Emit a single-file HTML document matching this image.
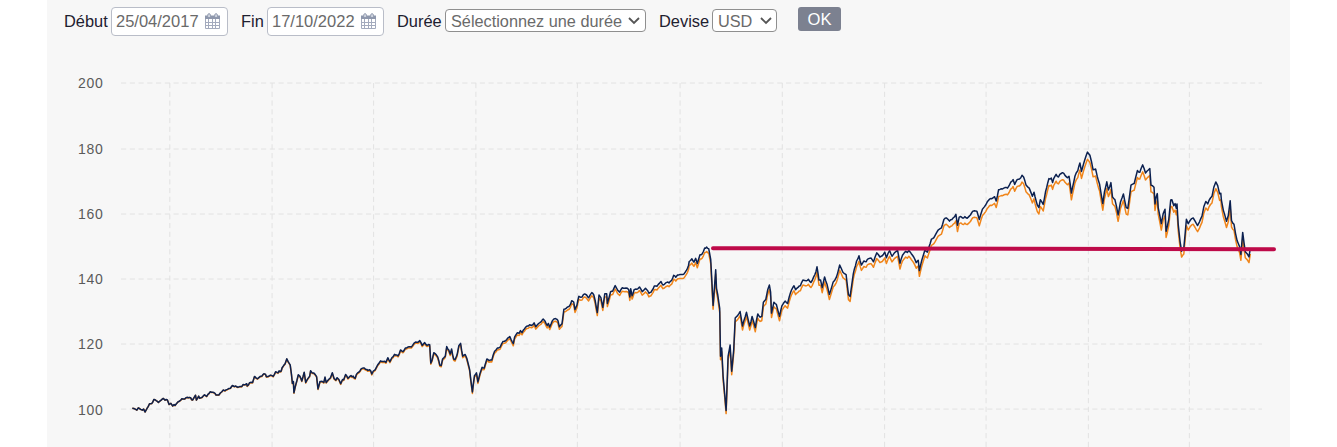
<!DOCTYPE html>
<html><head><meta charset="utf-8">
<style>
html,body{margin:0;padding:0;background:#fff;}
body{width:1337px;height:447px;overflow:hidden;position:relative;font-family:"Liberation Sans",sans-serif;}
#panel{position:absolute;left:47px;top:0;width:1243px;height:447px;background:#f7f7f7;}
.lbl{position:absolute;top:11px;font-size:16.4px;line-height:20px;color:#1e2030;white-space:nowrap;}
.box{position:absolute;box-sizing:border-box;background:#fff;white-space:nowrap;}
.inp{top:7px;height:29px;width:117px;border:1px solid #b9bdc8;border-radius:4px;}
.inp .t{position:absolute;left:4px;top:3px;font-size:16.5px;line-height:20px;color:#6a6a6a;}
.cal{position:absolute;top:4px;width:17px;height:18px;}
.sel{top:9px;height:23px;border:1px solid #8f8f8f;border-radius:4px;}
.sel .t{position:absolute;left:5px;top:1.2px;font-size:16.3px;line-height:20px;color:#6a6a6a;}
.chev{position:absolute;top:7px;}
#ok{position:absolute;left:798px;top:7px;width:43px;height:24px;background:#7c8190;border-radius:3px;color:#fff;font-size:16.6px;line-height:26px;text-align:center;}
svg#chart{position:absolute;left:0;top:0;}
#chart .grid line{stroke:#e2e2e2;stroke-width:1;stroke-dasharray:5.2 3.55;}
#chart text{font-family:"Liberation Sans",sans-serif;font-size:14px;fill:#5a5a5a;text-anchor:end;letter-spacing:0.8px;}
</style></head><body>
<div id="panel"></div>
<svg id="chart" width="1337" height="447" viewBox="0 0 1337 447">
<g class="grid">
<line x1="121" y1="83" x2="1262" y2="83"/>
<line x1="121" y1="149" x2="1262" y2="149"/>
<line x1="121" y1="214" x2="1262" y2="214"/>
<line x1="121" y1="279" x2="1262" y2="279"/>
<line x1="121" y1="344" x2="1262" y2="344"/>
<line x1="121" y1="409.1" x2="1262" y2="409.1"/>
<line x1="169.8" y1="83" x2="169.8" y2="447"/>
<line x1="272.1" y1="83" x2="272.1" y2="447"/>
<line x1="373.6" y1="83" x2="373.6" y2="447"/>
<line x1="475.9" y1="83" x2="475.9" y2="447"/>
<line x1="577.4" y1="83" x2="577.4" y2="447"/>
<line x1="680.1" y1="83" x2="680.1" y2="447"/>
<line x1="782.3" y1="83" x2="782.3" y2="447"/>
<line x1="884.6" y1="83" x2="884.6" y2="447"/>
<line x1="986.1" y1="83" x2="986.1" y2="447"/>
<line x1="1088.4" y1="83" x2="1088.4" y2="447"/>
<line x1="1189.4" y1="83" x2="1189.4" y2="447"/>
</g>
<g class="labels">
<text x="103.7" y="88.4">200</text>
<text x="103.7" y="154.4">180</text>
<text x="103.7" y="219.4">160</text>
<text x="103.7" y="284.4">140</text>
<text x="103.7" y="349.4">120</text>
<text x="103.7" y="414.5">100</text>
</g>
<path d="M132.3,408.2 L133.8,408.5 L135.2,409.1 L136.9,410.2 L138.3,407.8 L139.4,408.4 L140.5,409.3 L142.3,410.2 L143.7,409.1 L145.0,412.0 L146.1,410.1 L147.2,408.2 L148.3,406.5 L149.5,403.8 L150.6,403.8 L151.7,403.7 L152.8,402.1 L153.9,399.5 L155.1,399.9 L156.2,400.7 L157.3,401.4 L158.4,402.5 L159.8,401.2 L161.1,400.3 L162.2,399.2 L163.3,398.5 L165.1,400.3 L166.2,399.6 L167.4,400.1 L169.1,404.6 L170.9,403.4 L172.7,406.1 L174.1,404.7 L175.0,405.6 L176.6,403.6 L178.1,401.9 L179.4,401.3 L180.8,400.3 L181.7,399.0 L183.5,399.3 L184.7,399.2 L185.8,398.1 L187.0,397.5 L188.2,398.0 L189.4,397.5 L190.6,397.9 L191.6,399.9 L192.6,400.2 L194.2,397.5 L195.5,395.4 L196.4,400.2 L197.6,398.4 L198.7,396.3 L199.6,398.4 L200.9,398.0 L202.2,397.5 L203.3,396.1 L204.5,395.0 L205.6,395.9 L206.7,396.6 L207.9,394.6 L209.1,393.6 L210.3,391.9 L211.5,392.5 L212.7,392.6 L213.9,392.9 L215.0,393.6 L216.1,395.3 L217.4,395.1 L218.8,395.3 L220.3,393.3 L221.8,392.0 L223.3,390.2 L225.0,391.1 L226.0,390.2 L227.5,389.7 L229.0,388.7 L230.4,388.5 L231.4,387.1 L232.4,385.8 L233.4,386.3 L234.4,386.9 L235.8,386.3 L236.8,387.2 L237.8,387.5 L239.1,387.1 L240.3,386.7 L241.7,386.9 L243.2,384.8 L244.2,385.1 L245.2,385.1 L246.7,384.1 L247.2,386.4 L248.4,385.4 L249.6,383.1 L251.1,382.7 L252.6,382.9 L254.5,376.8 L256.0,378.3 L257.5,379.2 L258.8,378.0 L260.0,377.0 L261.9,376.5 L262.9,375.1 L263.9,374.1 L265.4,374.5 L266.4,377.2 L267.9,377.0 L269.3,376.2 L270.8,375.5 L272.0,376.1 L273.2,376.9 L274.4,374.7 L275.7,372.2 L276.9,372.8 L278.0,373.4 L279.1,371.4 L280.1,372.1 L281.1,371.7 L282.1,368.2 L283.6,366.1 L285.1,364.3 L286.8,359.2 L288.0,361.9 L289.1,363.7 L290.2,365.3 L291.5,375.1 L292.4,383.8 L293.4,382.0 L293.9,393.3 L295.4,386.5 L296.9,381.1 L298.3,375.3 L299.8,376.6 L300.8,378.7 L301.8,381.5 L303.0,377.3 L304.2,372.8 L305.7,383.1 L306.9,380.6 L308.2,378.7 L309.7,376.7 L310.6,371.3 L312.1,373.5 L313.6,373.5 L315.1,375.0 L316.6,377.2 L318.0,389.5 L319.0,386.0 L320.0,382.1 L321.0,382.1 L322.0,381.9 L323.8,383.1 L325.0,377.8 L326.2,383.1 L327.4,381.5 L328.6,380.2 L330.5,378.4 L332.3,373.5 L334.1,379.2 L335.9,380.8 L337.1,378.4 L338.9,380.2 L340.7,384.4 L342.5,380.2 L343.7,380.4 L345.6,375.2 L346.8,376.8 L348.0,379.1 L349.5,377.5 L351.0,376.4 L352.1,377.6 L353.2,376.9 L354.2,378.6 L355.2,379.1 L356.4,375.2 L357.6,373.7 L358.8,373.0 L360.1,371.6 L361.3,369.4 L362.8,369.0 L364.3,368.9 L365.5,370.1 L366.7,370.3 L367.9,371.3 L369.7,370.7 L370.8,372.0 L371.8,374.9 L373.3,371.9 L375.1,370.7 L376.4,368.2 L377.6,365.9 L379.1,364.0 L380.6,361.7 L382.1,362.6 L383.6,362.4 L384.8,362.3 L386.0,363.3 L387.8,358.7 L388.9,360.8 L389.9,362.6 L390.9,360.7 L392.0,358.5 L393.2,357.6 L394.5,355.4 L395.7,356.0 L396.9,356.0 L398.1,356.9 L399.3,354.6 L400.5,351.0 L401.7,352.0 L402.9,352.8 L404.1,351.4 L405.3,349.2 L406.5,349.1 L407.7,348.2 L408.9,347.8 L410.2,347.9 L411.4,348.0 L412.6,346.5 L414.1,344.3 L415.6,343.2 L416.8,343.3 L418.0,343.5 L419.8,341.8 L421.0,343.8 L422.2,346.6 L423.4,345.2 L424.7,343.8 L425.9,345.6 L427.1,346.6 L428.4,345.8 L429.7,346.0 L430.8,364.3 L432.2,360.9 L433.8,353.9 L435.1,354.8 L436.3,356.0 L437.7,358.1 L438.8,362.0 L439.8,366.4 L441.2,366.8 L442.6,360.3 L444.0,358.9 L445.3,357.5 L446.7,347.8 L447.8,350.3 L448.8,351.4 L450.2,355.5 L451.6,350.4 L452.6,356.0 L453.7,360.4 L455.0,361.1 L456.1,358.6 L457.1,356.2 L458.8,347.3 L460.6,344.9 L461.6,351.7 L462.7,357.7 L463.9,356.7 L465.2,356.0 L466.8,359.8 L468.2,365.2 L469.6,370.9 L471.0,382.8 L472.4,393.4 L473.4,384.9 L474.5,377.1 L475.5,375.9 L476.5,374.3 L477.9,383.4 L478.9,379.6 L480.0,375.1 L481.1,371.8 L482.1,368.9 L483.1,369.7 L484.2,369.6 L485.5,365.1 L486.9,360.7 L487.9,361.2 L489.0,362.3 L490.4,361.7 L491.8,361.9 L493.2,356.8 L494.6,353.1 L496.0,351.9 L497.3,350.0 L498.7,349.8 L500.1,349.1 L501.5,346.0 L502.9,343.6 L504.3,343.3 L505.7,342.7 L506.7,341.5 L507.7,340.2 L508.8,339.5 L509.8,338.6 L511.0,341.2 L512.1,343.5 L513.3,345.8 L514.6,339.2 L515.9,337.0 L517.2,335.0 L518.2,335.2 L519.2,335.4 L520.5,332.8 L522.0,334.8 L523.2,332.5 L524.4,331.2 L525.7,329.4 L527.0,328.4 L528.3,328.3 L529.6,327.1 L531.5,327.8 L532.8,327.0 L534.1,325.3 L535.8,329.1 L537.2,327.4 L538.6,325.9 L539.9,325.0 L541.2,324.1 L542.2,322.6 L543.2,321.5 L544.9,323.4 L546.0,326.0 L547.1,328.0 L548.4,326.0 L549.7,329.6 L551.0,326.7 L552.3,323.5 L553.9,321.6 L555.5,321.3 L556.6,321.8 L557.8,323.0 L559.4,329.3 L560.7,327.8 L562.0,326.5 L563.9,312.0 L565.0,311.8 L566.1,311.2 L567.2,310.2 L569.1,309.3 L570.4,307.3 L571.7,303.8 L572.7,304.2 L573.7,305.1 L575.0,312.4 L576.9,308.3 L577.9,303.0 L578.9,299.3 L580.5,300.2 L582.1,300.0 L583.4,297.7 L584.7,297.0 L586.6,298.1 L587.6,299.8 L588.6,300.9 L590.2,298.1 L591.8,295.8 L592.8,296.6 L593.8,298.2 L595.1,303.3 L596.2,309.8 L597.3,315.6 L599.0,298.2 L600.9,300.8 L602.8,310.4 L603.8,303.8 L604.8,296.9 L606.7,297.0 L607.4,306.6 L609.0,301.0 L610.6,295.0 L611.6,294.7 L612.6,294.6 L613.9,291.7 L615.2,289.0 L616.5,291.3 L617.8,293.8 L619.7,295.5 L621.0,292.9 L622.3,291.2 L623.5,291.6 L624.7,291.7 L626.0,291.6 L627.4,291.8 L628.7,293.1 L629.8,300.4 L630.7,292.2 L632.1,299.1 L633.1,296.6 L634.1,293.2 L635.5,292.6 L636.8,292.7 L638.1,292.1 L639.5,290.5 L640.9,292.7 L642.2,295.2 L643.3,294.2 L644.4,293.1 L645.5,291.9 L646.5,293.1 L647.5,293.9 L648.9,296.9 L649.9,296.1 L650.9,295.9 L652.0,294.1 L653.2,292.4 L654.3,289.7 L655.6,289.6 L656.9,290.0 L658.3,288.1 L659.6,286.8 L661.0,285.3 L662.0,287.3 L663.0,288.7 L664.4,288.0 L665.7,286.7 L666.8,286.2 L667.9,285.8 L669.0,286.7 L670.4,285.1 L671.7,284.1 L672.7,281.9 L673.7,279.2 L674.8,279.8 L675.8,281.1 L676.8,279.8 L677.8,278.8 L678.9,278.8 L680.0,278.4 L681.1,278.5 L682.5,278.4 L683.8,278.2 L685.1,276.3 L686.5,274.2 L687.5,272.3 L688.5,269.6 L689.2,265.6 L690.5,264.7 L691.9,263.0 L692.9,265.0 L693.9,266.3 L695.7,262.6 L697.3,267.7 L698.6,263.5 L700.0,259.1 L701.0,259.1 L702.0,258.4 L703.4,255.8 L704.7,252.4 L705.7,252.6 L706.7,251.5 L707.7,252.8 L708.7,253.1 L709.7,258.4 L710.7,263.7 L711.9,285.9 L713.1,309.3 L714.4,292.5 L715.7,274.1 L716.5,292.4 L717.7,298.4 L718.7,305.6 L719.7,312.4 L720.5,359.7 L721.7,351.7 L723.1,379.7 L724.6,396.3 L726.1,413.6 L727.1,387.5 L728.1,359.8 L729.1,354.5 L730.1,348.8 L731.7,374.8 L732.7,364.2 L733.7,353.8 L735.2,322.0 L736.4,320.7 L737.6,319.6 L738.9,317.7 L740.1,315.6 L741.3,322.7 L742.5,330.0 L743.8,324.9 L745.2,320.8 L746.5,316.5 L748.1,323.4 L749.7,330.1 L750.9,326.1 L752.1,320.6 L753.7,325.8 L755.3,331.7 L756.5,324.4 L757.8,318.1 L759.0,320.3 L760.2,321.4 L761.8,320.7 L763.4,306.6 L764.6,305.2 L765.8,304.0 L767.7,294.4 L769.4,289.6 L770.6,296.8 L771.5,317.5 L772.7,312.2 L773.9,306.7 L775.1,308.0 L776.3,308.8 L777.9,314.9 L779.5,320.8 L780.7,315.3 L781.9,310.4 L783.5,307.9 L785.1,305.7 L786.4,307.2 L787.6,308.1 L789.2,301.7 L790.4,297.7 L791.6,294.6 L792.8,292.3 L794.0,290.7 L795.6,294.6 L796.8,293.1 L798.0,292.3 L799.2,291.0 L800.4,290.7 L801.6,287.6 L802.9,285.1 L804.5,285.5 L806.1,285.9 L807.3,285.3 L808.5,284.3 L809.7,286.4 L810.9,287.5 L812.2,285.6 L813.6,282.2 L814.9,279.6 L816.0,276.6 L817.0,272.0 L818.0,278.2 L819.0,285.2 L820.6,285.2 L822.2,292.7 L823.4,287.3 L824.6,282.0 L825.8,286.1 L827.0,289.3 L828.2,294.4 L829.4,299.6 L830.7,295.4 L831.9,291.4 L833.2,287.0 L834.8,285.3 L836.4,282.3 L837.5,278.9 L838.6,274.7 L839.7,270.3 L841.3,273.8 L842.9,277.6 L844.5,279.0 L846.1,280.0 L847.3,290.2 L848.5,299.8 L850.1,301.4 L851.7,290.4 L853.3,279.2 L854.4,274.2 L855.5,271.1 L856.6,266.5 L857.8,264.4 L859.0,261.3 L860.2,266.4 L861.4,270.4 L862.6,268.6 L863.8,266.5 L865.0,267.0 L866.2,267.3 L867.4,264.8 L868.6,264.2 L869.9,263.8 L871.1,263.7 L872.3,265.4 L873.5,267.3 L875.1,262.6 L876.7,258.6 L878.3,260.2 L879.9,262.6 L881.1,262.0 L882.3,261.5 L883.5,259.8 L884.8,257.8 L886.4,263.5 L888.0,259.2 L889.6,256.3 L890.8,259.4 L892.0,261.9 L893.2,260.3 L894.4,258.6 L896.0,257.3 L897.6,256.3 L898.8,262.6 L900.0,269.0 L901.2,264.6 L902.5,261.1 L904.1,258.9 L905.7,257.1 L907.3,258.2 L908.9,256.3 L910.1,257.7 L911.3,259.5 L912.5,261.1 L913.7,262.8 L915.0,265.4 L916.2,268.3 L917.2,266.9 L918.2,266.0 L919.4,276.3 L920.6,270.8 L921.8,266.0 L923.4,260.8 L925.0,255.6 L926.2,257.2 L927.4,258.0 L928.7,253.8 L930.1,249.7 L931.4,245.3 L932.6,244.7 L933.9,243.7 L935.0,241.8 L936.6,238.8 L938.2,236.2 L939.8,235.1 L941.4,234.2 L942.6,230.6 L943.9,225.9 L945.1,224.7 L946.3,224.3 L947.9,225.7 L949.5,227.5 L950.7,226.2 L951.9,225.9 L953.2,224.3 L954.6,223.1 L955.9,220.9 L957.5,231.6 L959.2,223.6 L960.8,222.9 L962.4,224.3 L963.6,224.6 L964.8,223.1 L966.0,224.1 L967.2,224.6 L968.8,223.1 L970.4,221.5 L971.8,219.1 L973.1,217.6 L974.5,217.2 L975.7,217.6 L976.9,217.7 L978.1,221.8 L979.3,225.9 L980.9,220.3 L982.5,215.6 L984.1,213.7 L985.7,211.6 L987.3,208.4 L988.4,207.2 L989.5,205.8 L990.6,205.3 L991.8,205.4 L993.0,204.5 L994.6,203.4 L996.2,207.6 L997.4,202.6 L998.6,196.5 L999.9,196.1 L1001.3,195.6 L1002.6,195.7 L1003.8,195.0 L1005.0,194.4 L1006.2,194.2 L1007.5,194.9 L1009.1,192.5 L1010.7,189.1 L1011.9,188.3 L1013.1,186.5 L1014.7,191.2 L1015.9,188.6 L1017.1,186.5 L1018.3,186.1 L1019.5,185.9 L1020.8,184.6 L1022.0,182.1 L1023.6,183.8 L1024.8,187.4 L1026.0,191.7 L1027.6,193.6 L1029.2,194.9 L1030.8,198.8 L1032.4,202.9 L1034.0,198.9 L1035.1,203.7 L1036.2,207.7 L1037.3,211.6 L1038.9,214.0 L1040.3,206.4 L1041.8,208.5 L1043.2,211.0 L1044.4,204.9 L1045.6,198.2 L1046.7,194.2 L1047.8,189.5 L1048.9,185.5 L1050.1,186.0 L1051.3,185.0 L1052.6,189.4 L1053.7,185.5 L1054.9,183.3 L1056.1,181.2 L1057.3,183.3 L1058.5,183.9 L1059.8,181.3 L1061.2,180.4 L1062.5,179.7 L1063.8,180.3 L1065.0,182.3 L1066.2,183.5 L1067.4,184.7 L1069.0,183.1 L1070.2,191.0 L1071.4,199.8 L1072.6,193.9 L1073.8,188.6 L1075.0,182.9 L1076.2,179.9 L1077.8,177.6 L1078.8,173.4 L1079.9,170.1 L1081.5,178.4 L1082.5,174.8 L1083.5,171.1 L1084.8,166.8 L1086.2,162.7 L1087.5,159.3 L1088.7,160.9 L1089.9,162.5 L1091.5,168.8 L1093.1,176.8 L1094.3,176.6 L1095.6,176.0 L1097.2,183.1 L1098.4,187.4 L1099.6,191.1 L1101.2,200.9 L1102.8,210.2 L1104.4,199.0 L1105.6,194.0 L1106.8,188.6 L1108.4,196.6 L1109.7,193.4 L1110.9,189.4 L1112.5,203.7 L1113.7,205.1 L1114.9,206.2 L1116.5,212.9 L1118.1,221.3 L1119.3,215.0 L1120.5,208.6 L1122.0,204.6 L1123.4,200.6 L1124.8,207.7 L1126.2,214.1 L1127.8,214.9 L1129.4,203.7 L1131.0,191.9 L1132.6,190.9 L1134.2,190.3 L1135.8,183.8 L1137.4,177.5 L1138.6,178.9 L1139.8,179.1 L1141.2,175.2 L1142.7,171.9 L1144.1,175.5 L1145.5,179.9 L1146.9,178.2 L1148.3,176.9 L1149.8,175.5 L1151.0,191.9 L1152.5,192.4 L1154.0,194.0 L1155.0,210.4 L1156.0,204.2 L1157.3,200.2 L1158.2,214.1 L1159.8,222.0 L1161.3,230.0 L1163.2,220.0 L1165.0,215.7 L1166.1,237.4 L1167.4,232.2 L1168.8,225.6 L1170.7,206.7 L1171.9,206.4 L1173.8,212.2 L1175.1,210.1 L1176.3,214.7 L1177.0,210.4 L1178.2,230.6 L1180.1,247.8 L1181.6,257.1 L1182.7,255.3 L1183.8,254.1 L1185.1,240.3 L1186.4,225.6 L1188.2,230.0 L1190.1,226.8 L1191.7,224.9 L1193.2,224.3 L1195.1,227.5 L1196.3,229.7 L1197.6,231.7 L1199.5,228.1 L1200.8,224.9 L1202.0,222.4 L1203.9,212.9 L1205.8,207.9 L1207.7,210.4 L1208.9,207.2 L1210.5,204.5 L1212.0,202.9 L1213.9,193.6 L1215.8,188.7 L1217.7,192.4 L1219.6,200.4 L1220.8,199.8 L1221.4,206.6 L1223.3,216.5 L1224.9,221.8 L1226.5,227.5 L1228.3,221.8 L1230.2,207.2 L1231.5,226.8 L1232.8,229.3 L1234.0,230.5 L1235.5,239.4 L1237.1,246.6 L1238.3,249.5 L1239.6,252.8 L1240.9,260.3 L1242.7,238.5 L1244.0,248.7 L1245.3,257.8 L1247.1,259.6 L1249.0,262.7 L1250.3,254.0" fill="none" stroke="#f0851a" stroke-width="1.5" stroke-linejoin="round"/>
<path d="M132.3,408.2 L133.8,408.5 L135.2,409.1 L136.9,410.2 L138.3,407.8 L139.4,408.4 L140.5,409.3 L142.3,410.2 L143.7,409.1 L145.0,412.0 L146.1,410.1 L147.2,408.2 L148.3,406.4 L149.5,403.7 L150.6,403.7 L151.7,403.6 L152.8,402.0 L153.9,399.4 L155.1,399.8 L156.2,400.6 L157.3,401.3 L158.4,402.4 L159.8,401.2 L161.1,400.2 L162.2,399.1 L163.3,398.4 L165.1,400.2 L166.2,399.5 L167.4,400.0 L169.1,404.5 L170.9,403.3 L172.7,406.0 L174.1,404.6 L175.0,405.5 L176.6,403.5 L178.1,401.8 L179.4,401.2 L180.8,400.2 L181.7,398.8 L183.5,399.1 L184.7,399.0 L185.8,397.9 L187.0,397.3 L188.2,397.8 L189.4,397.4 L190.6,397.7 L191.6,399.7 L192.6,400.0 L194.2,397.3 L195.5,395.2 L196.4,400.0 L197.6,398.2 L198.7,396.1 L199.6,398.2 L200.9,397.8 L202.2,397.3 L203.3,395.9 L204.5,394.8 L205.6,395.7 L206.7,396.4 L207.9,394.4 L209.1,393.4 L210.3,391.7 L211.5,392.2 L212.7,392.3 L213.9,392.6 L215.0,393.3 L216.1,395.0 L217.4,394.9 L218.8,395.0 L220.3,393.0 L221.8,391.7 L223.3,389.9 L225.0,390.8 L226.0,389.9 L227.5,389.4 L229.0,388.4 L230.4,388.2 L231.4,386.8 L232.4,385.5 L233.4,386.0 L234.4,386.6 L235.8,386.0 L236.8,386.8 L237.8,387.2 L239.1,386.8 L240.3,386.4 L241.7,386.6 L243.2,384.5 L244.2,384.7 L245.2,384.7 L246.7,383.7 L247.2,386.0 L248.4,385.0 L249.6,382.7 L251.1,382.3 L252.6,382.5 L254.5,376.4 L256.0,377.9 L257.5,378.8 L258.8,377.6 L260.0,376.6 L261.9,376.1 L262.9,374.6 L263.9,373.7 L265.4,374.1 L266.4,376.8 L267.9,376.6 L269.3,375.8 L270.8,375.1 L272.0,375.6 L273.2,376.4 L274.4,374.3 L275.7,371.7 L276.9,372.3 L278.0,372.9 L279.1,370.9 L280.1,371.7 L281.1,371.2 L282.1,367.7 L283.6,365.6 L285.1,363.8 L286.8,358.7 L288.0,361.4 L289.1,363.2 L290.2,364.8 L291.5,374.6 L292.4,383.3 L293.4,381.5 L293.9,392.8 L295.4,386.0 L296.9,380.5 L298.3,374.8 L299.8,376.1 L300.8,378.2 L301.8,381.0 L303.0,376.8 L304.2,372.2 L305.7,382.5 L306.9,380.1 L308.2,378.1 L309.7,376.1 L310.6,370.7 L312.1,372.9 L313.6,372.9 L315.1,374.4 L316.6,376.6 L318.0,388.9 L319.0,385.4 L320.0,381.5 L321.0,381.5 L322.0,381.3 L323.8,382.5 L325.0,377.1 L326.2,382.5 L327.4,380.9 L328.6,379.5 L330.5,377.7 L332.3,372.8 L334.1,378.5 L335.9,380.1 L337.1,377.7 L338.9,379.5 L340.7,383.7 L342.5,379.5 L343.7,379.7 L345.6,374.4 L346.8,376.0 L348.0,378.3 L349.5,376.7 L351.0,375.6 L352.1,376.8 L353.2,376.1 L354.2,377.8 L355.2,378.3 L356.4,374.4 L357.6,372.9 L358.8,372.2 L360.1,370.7 L361.3,368.6 L362.8,368.1 L364.3,368.0 L365.5,369.2 L366.7,369.4 L367.9,370.4 L369.7,369.8 L370.8,371.1 L371.8,374.0 L373.3,371.0 L375.1,369.8 L376.4,367.3 L377.6,365.0 L379.1,363.0 L380.6,360.8 L382.1,361.6 L383.6,361.4 L384.8,361.3 L386.0,362.3 L387.8,357.7 L388.9,359.8 L389.9,361.6 L390.9,359.7 L392.0,357.5 L393.2,356.6 L394.5,354.4 L395.7,355.0 L396.9,355.0 L398.1,355.9 L399.3,353.5 L400.5,349.9 L401.7,350.9 L402.9,351.7 L404.1,350.3 L405.3,348.1 L406.5,348.0 L407.7,347.1 L408.9,346.7 L410.2,346.8 L411.4,346.9 L412.6,345.4 L414.1,343.2 L415.6,342.0 L416.8,342.2 L418.0,342.3 L419.8,340.6 L421.0,342.6 L422.2,345.4 L423.4,344.0 L424.7,342.6 L425.9,344.4 L427.1,345.4 L428.4,344.6 L429.7,344.8 L430.8,363.1 L432.2,359.7 L433.8,352.7 L435.1,353.6 L436.3,354.8 L437.7,356.9 L438.8,360.7 L439.8,365.2 L441.2,365.6 L442.6,359.0 L444.0,357.6 L445.3,356.2 L446.7,346.5 L447.8,348.9 L448.8,350.0 L450.2,354.1 L451.6,349.0 L452.6,354.6 L453.7,359.0 L455.0,359.7 L456.1,357.2 L457.1,354.8 L458.8,345.8 L460.6,343.4 L461.6,350.2 L462.7,356.2 L463.9,355.2 L465.2,354.5 L466.8,358.3 L468.2,363.7 L469.6,369.4 L471.0,381.4 L472.4,392.0 L473.4,383.4 L474.5,375.6 L475.5,374.4 L476.5,372.8 L477.9,381.9 L478.9,378.0 L480.0,373.5 L481.1,370.2 L482.1,367.3 L483.1,368.0 L484.2,368.0 L485.5,363.5 L486.9,359.0 L487.9,359.4 L489.0,360.6 L490.4,360.0 L491.8,360.1 L493.2,355.0 L494.6,351.3 L496.0,350.0 L497.3,348.1 L498.7,347.9 L500.1,347.2 L501.5,344.1 L502.9,341.6 L504.3,341.3 L505.7,340.7 L506.7,339.5 L507.7,338.2 L508.8,337.4 L509.8,336.5 L511.0,339.2 L512.1,341.5 L513.3,343.7 L514.6,337.1 L515.9,334.8 L517.2,332.8 L518.2,333.0 L519.2,333.2 L520.5,330.6 L522.0,332.6 L523.2,330.3 L524.4,329.0 L525.7,327.1 L527.0,326.1 L528.3,326.0 L529.6,324.8 L531.5,325.5 L532.8,324.7 L534.1,322.9 L535.8,326.7 L537.2,325.0 L538.6,323.5 L539.9,322.6 L541.2,321.6 L542.2,320.1 L543.2,319.0 L544.9,320.9 L546.0,323.4 L547.1,325.5 L548.4,323.5 L549.7,327.1 L551.0,324.1 L552.3,320.9 L553.9,318.9 L555.5,318.6 L556.6,319.1 L557.8,320.3 L559.4,326.7 L560.7,325.1 L562.0,323.8 L563.9,309.2 L565.0,309.0 L566.1,308.4 L567.2,307.3 L569.1,306.4 L570.4,304.4 L571.7,300.8 L572.7,301.2 L573.7,302.1 L575.0,309.5 L576.9,305.3 L577.9,300.0 L578.9,296.3 L580.5,297.2 L582.1,296.9 L583.4,294.6 L584.7,293.9 L586.6,295.0 L587.6,296.7 L588.6,297.8 L590.2,294.9 L591.8,292.6 L592.8,293.4 L593.8,295.0 L595.1,300.2 L596.2,306.7 L597.3,312.5 L599.0,295.0 L600.9,297.6 L602.8,307.3 L603.8,300.6 L604.8,293.7 L606.7,293.7 L607.4,303.4 L609.0,297.8 L610.6,291.7 L611.6,291.3 L612.6,291.3 L613.9,288.4 L615.2,285.6 L616.5,288.0 L617.8,290.4 L619.7,292.1 L621.0,289.5 L622.3,287.8 L623.5,288.2 L624.7,288.3 L626.0,288.1 L627.4,288.3 L628.7,289.7 L629.8,297.0 L630.7,288.7 L632.1,295.7 L633.1,293.2 L634.1,289.7 L635.5,289.1 L636.8,289.2 L638.1,288.6 L639.5,287.0 L640.9,289.2 L642.2,291.7 L643.3,290.6 L644.4,289.5 L645.5,288.3 L646.5,289.5 L647.5,290.3 L648.9,293.3 L649.9,292.5 L650.9,292.3 L652.0,290.5 L653.2,288.8 L654.3,286.0 L655.6,285.9 L656.9,286.3 L658.3,284.4 L659.6,283.1 L661.0,281.6 L662.0,283.6 L663.0,285.0 L664.4,284.3 L665.7,282.9 L666.8,282.4 L667.9,282.0 L669.0,282.9 L670.4,281.3 L671.7,280.3 L672.7,278.0 L673.7,275.3 L674.8,275.9 L675.8,277.2 L676.8,275.9 L677.8,274.9 L678.9,274.9 L680.0,274.5 L681.1,274.5 L682.5,274.4 L683.8,274.2 L685.1,272.3 L686.5,270.2 L687.5,268.3 L688.5,265.5 L689.2,261.5 L690.5,260.5 L691.9,258.8 L692.9,260.8 L693.9,262.1 L695.7,258.4 L697.3,263.5 L698.6,259.3 L700.0,254.8 L701.0,254.8 L702.0,254.1 L703.4,251.5 L704.7,248.0 L705.7,248.2 L706.7,247.1 L707.7,248.4 L708.7,248.7 L709.7,254.0 L710.7,259.4 L711.9,281.8 L713.1,305.4 L714.4,288.4 L715.7,269.8 L716.5,288.3 L717.7,294.3 L718.7,301.6 L719.7,308.4 L720.5,356.2 L721.7,348.1 L723.1,376.3 L724.6,393.1 L726.1,410.5 L727.1,384.2 L728.1,356.2 L729.1,350.8 L730.1,345.1 L731.7,371.3 L732.7,360.7 L733.7,350.1 L735.2,318.0 L736.4,316.7 L737.6,315.6 L738.9,313.6 L740.1,311.5 L741.3,318.7 L742.5,326.0 L743.8,320.9 L745.2,316.7 L746.5,312.3 L748.1,319.3 L749.7,326.0 L750.9,322.0 L752.1,316.4 L753.7,321.7 L755.3,327.6 L756.5,320.2 L757.8,313.9 L759.0,316.0 L760.2,317.2 L761.8,316.4 L763.4,302.2 L764.6,300.8 L765.8,299.5 L767.7,289.8 L769.4,285.0 L770.6,292.2 L771.5,313.1 L772.7,307.8 L773.9,302.2 L775.1,303.5 L776.3,304.3 L777.9,310.5 L779.5,316.4 L780.7,310.8 L781.9,305.9 L783.5,303.3 L785.1,301.1 L786.4,302.6 L787.6,303.5 L789.2,297.0 L790.4,292.9 L791.6,289.8 L792.8,287.5 L794.0,285.8 L795.6,289.8 L796.8,288.3 L798.0,287.4 L799.2,286.0 L800.4,285.8 L801.6,282.6 L802.9,280.1 L804.5,280.4 L806.1,280.9 L807.3,280.3 L808.5,279.3 L809.7,281.4 L810.9,282.5 L812.2,280.5 L813.6,277.1 L814.9,274.5 L816.0,271.4 L817.0,266.8 L818.0,273.1 L819.0,280.1 L820.6,280.1 L822.2,287.7 L823.4,282.2 L824.6,276.9 L825.8,281.0 L827.0,284.2 L828.2,289.4 L829.4,294.6 L830.7,290.4 L831.9,286.4 L833.2,281.9 L834.8,280.2 L836.4,277.1 L837.5,273.6 L838.6,269.4 L839.7,265.0 L841.3,268.5 L842.9,272.3 L844.5,273.7 L846.1,274.7 L847.3,285.0 L848.5,294.8 L850.1,296.4 L851.7,285.3 L853.3,273.9 L854.4,268.9 L855.5,265.7 L856.6,261.0 L857.8,258.9 L859.0,255.8 L860.2,261.0 L861.4,265.0 L862.6,263.1 L863.8,261.0 L865.0,261.5 L866.2,261.8 L867.4,259.3 L868.6,258.6 L869.9,258.2 L871.1,258.1 L872.3,259.9 L873.5,261.8 L875.1,257.0 L876.7,252.9 L878.3,254.5 L879.9,257.0 L881.1,256.3 L882.3,255.8 L883.5,254.2 L884.8,252.1 L886.4,257.8 L888.0,253.5 L889.6,250.5 L890.8,253.6 L892.0,256.2 L893.2,254.6 L894.4,252.9 L896.0,251.5 L897.6,250.5 L898.8,256.9 L900.0,263.4 L901.2,258.9 L902.5,255.3 L904.1,253.1 L905.7,251.3 L907.3,252.4 L908.9,250.5 L910.1,251.9 L911.3,253.7 L912.5,255.3 L913.7,257.0 L915.0,259.6 L916.2,262.6 L917.2,261.2 L918.2,260.2 L919.4,270.6 L920.6,265.1 L921.8,260.2 L923.4,255.0 L925.0,249.7 L926.2,251.3 L927.4,252.1 L928.7,247.8 L930.1,243.7 L931.4,239.2 L932.6,238.6 L933.9,237.6 L935.0,235.6 L936.6,232.6 L938.2,230.0 L939.8,228.8 L941.4,227.9 L942.6,224.2 L943.9,219.5 L945.1,218.3 L946.3,217.9 L947.9,219.3 L949.5,221.1 L950.7,219.8 L951.9,219.5 L953.2,217.9 L954.6,216.7 L955.9,214.4 L957.5,225.2 L959.2,217.1 L960.8,216.5 L962.4,217.9 L963.6,218.1 L964.8,216.6 L966.0,217.7 L967.2,218.2 L968.8,216.6 L970.4,215.0 L971.8,212.6 L973.1,211.1 L974.5,210.7 L975.7,211.1 L976.9,211.2 L978.1,215.3 L979.3,219.5 L980.9,213.9 L982.5,209.1 L984.1,207.1 L985.7,205.0 L987.3,201.8 L988.4,200.5 L989.5,199.2 L990.6,198.6 L991.8,198.7 L993.0,197.8 L994.6,196.7 L996.2,201.0 L997.4,195.9 L998.6,189.7 L999.9,189.4 L1001.3,188.8 L1002.6,188.9 L1003.8,188.2 L1005.0,187.6 L1006.2,187.4 L1007.5,188.1 L1009.1,185.7 L1010.7,182.2 L1011.9,181.4 L1013.1,179.6 L1014.7,184.4 L1015.9,181.8 L1017.1,179.6 L1018.3,179.2 L1019.5,179.0 L1020.8,177.7 L1022.0,175.2 L1023.6,176.9 L1024.8,180.6 L1026.0,184.9 L1027.6,186.8 L1029.2,188.1 L1030.8,192.1 L1032.4,196.2 L1034.0,192.2 L1035.1,197.0 L1036.2,201.1 L1037.3,205.0 L1038.9,207.5 L1040.3,199.8 L1041.8,201.9 L1043.2,204.4 L1044.4,198.3 L1045.6,191.5 L1046.7,187.4 L1047.8,182.7 L1048.9,178.6 L1050.1,179.1 L1051.3,178.1 L1052.6,182.6 L1053.7,178.6 L1054.9,176.4 L1056.1,174.3 L1057.3,176.4 L1058.5,177.0 L1059.8,174.4 L1061.2,173.5 L1062.5,172.7 L1063.8,173.4 L1065.0,175.4 L1066.2,176.6 L1067.4,177.8 L1069.0,176.2 L1070.2,184.2 L1071.4,193.1 L1072.6,187.2 L1073.8,181.8 L1075.0,176.0 L1076.2,173.0 L1077.8,170.6 L1078.8,166.4 L1079.9,163.0 L1081.5,171.4 L1082.5,167.8 L1083.5,164.1 L1084.8,159.7 L1086.2,155.5 L1087.5,152.1 L1088.7,153.7 L1089.9,155.3 L1091.5,161.7 L1093.1,169.8 L1094.3,169.6 L1095.6,169.0 L1097.2,176.2 L1098.4,180.6 L1099.6,184.3 L1101.2,194.3 L1102.8,203.6 L1104.4,192.3 L1105.6,187.3 L1106.8,181.8 L1108.4,189.9 L1109.7,186.7 L1110.9,182.6 L1112.5,197.1 L1113.7,198.5 L1114.9,199.6 L1116.5,206.4 L1118.1,214.9 L1119.3,208.6 L1120.5,202.0 L1122.0,198.0 L1123.4,193.9 L1124.8,201.1 L1126.2,207.6 L1127.8,208.4 L1129.4,197.1 L1131.0,185.1 L1132.6,184.1 L1134.2,183.5 L1135.8,177.0 L1137.4,170.6 L1138.6,172.0 L1139.8,172.2 L1141.2,168.2 L1142.7,164.9 L1144.1,168.6 L1145.5,173.0 L1146.9,171.3 L1148.3,170.0 L1149.8,168.5 L1151.0,185.1 L1152.5,185.7 L1154.0,187.3 L1155.0,203.9 L1156.0,197.6 L1157.3,193.6 L1158.2,207.6 L1159.8,215.6 L1161.3,223.7 L1163.2,213.6 L1165.0,209.3 L1166.1,231.2 L1167.4,226.0 L1168.8,219.3 L1170.7,200.1 L1171.9,199.8 L1173.8,205.7 L1175.1,203.6 L1176.3,208.2 L1177.0,203.9 L1178.2,224.3 L1180.1,241.8 L1181.6,251.2 L1182.7,249.4 L1183.8,248.1 L1185.1,234.2 L1186.4,219.3 L1188.2,223.7 L1190.1,220.5 L1191.7,218.6 L1193.2,218.0 L1195.1,221.2 L1196.3,223.4 L1197.6,225.5 L1199.5,221.8 L1200.8,218.6 L1202.0,216.1 L1203.9,206.4 L1205.8,201.4 L1207.7,203.9 L1208.9,200.7 L1210.5,198.0 L1212.0,196.3 L1213.9,186.9 L1215.8,181.9 L1217.7,185.7 L1219.6,193.8 L1220.8,193.2 L1221.4,200.1 L1223.3,210.1 L1224.9,215.4 L1226.5,221.2 L1228.3,215.5 L1230.2,200.7 L1231.5,220.5 L1232.8,223.1 L1234.0,224.3 L1235.5,233.3 L1237.1,240.6 L1238.3,243.5 L1239.6,246.8 L1240.9,254.4 L1242.7,232.4 L1244.0,242.7 L1245.3,251.9 L1247.1,253.7 L1249.0,256.9 L1250.3,248.1" fill="none" stroke="#0c2150" stroke-width="1.5" stroke-linejoin="round"/>
<line x1="713" y1="248.2" x2="1274" y2="249.2" stroke="#be0a49" stroke-width="4" stroke-linecap="round"/>
</svg>
<div class="lbl" style="left:64px">Début</div>
<div class="box inp" style="left:111px"><span class="t">25/04/2017</span><span class="cal" style="left:92px;top:4px"><svg width="17" height="18" viewBox="0 0 17 18" style="display:block">
<g fill="none" stroke="#a3aabd" stroke-width="1">
<path d="M1.5,6.8 V16.5 H15.5 V6.8"/>
<line x1="1.5" y1="10.5" x2="15.5" y2="10.5"/>
<line x1="1.5" y1="13.5" x2="15.5" y2="13.5"/>
<line x1="4.5" y1="6.8" x2="4.5" y2="16.5"/>
<line x1="8.5" y1="6.8" x2="8.5" y2="16.5"/>
<line x1="11.5" y1="6.8" x2="11.5" y2="16.5"/>
</g>
<rect x="1" y="3.5" width="15" height="3.5" fill="#8e97ac"/>
<rect x="3.8" y="1.7" width="2.5" height="4" rx="1.25" fill="#dfe3ec" stroke="#8e97ac" stroke-width="1"/>
<rect x="10.8" y="1.7" width="2.5" height="4" rx="1.25" fill="#dfe3ec" stroke="#8e97ac" stroke-width="1"/>
</svg></span></div>
<div class="lbl" style="left:241px">Fin</div>
<div class="box inp" style="left:267px"><span class="t">17/10/2022</span><span class="cal" style="left:92px;top:4px"><svg width="17" height="18" viewBox="0 0 17 18" style="display:block">
<g fill="none" stroke="#a3aabd" stroke-width="1">
<path d="M1.5,6.8 V16.5 H15.5 V6.8"/>
<line x1="1.5" y1="10.5" x2="15.5" y2="10.5"/>
<line x1="1.5" y1="13.5" x2="15.5" y2="13.5"/>
<line x1="4.5" y1="6.8" x2="4.5" y2="16.5"/>
<line x1="8.5" y1="6.8" x2="8.5" y2="16.5"/>
<line x1="11.5" y1="6.8" x2="11.5" y2="16.5"/>
</g>
<rect x="1" y="3.5" width="15" height="3.5" fill="#8e97ac"/>
<rect x="3.8" y="1.7" width="2.5" height="4" rx="1.25" fill="#dfe3ec" stroke="#8e97ac" stroke-width="1"/>
<rect x="10.8" y="1.7" width="2.5" height="4" rx="1.25" fill="#dfe3ec" stroke="#8e97ac" stroke-width="1"/>
</svg></span></div>
<div class="lbl" style="left:397px">Durée</div>
<div class="box sel" style="left:445px;width:201px"><span class="t">Sélectionnez une durée</span><svg class="chev" style="left:182px" width="12" height="8" viewBox="0 0 12 8"><path d="M1,1 L6,6 L11,1" fill="none" stroke="#555" stroke-width="1.8"/></svg></div>
<div class="lbl" style="left:659px">Devise</div>
<div class="box sel" style="left:712px;width:65px"><span class="t">USD</span><svg class="chev" style="left:46.5px" width="12" height="8" viewBox="0 0 12 8"><path d="M1,1 L6,6 L11,1" fill="none" stroke="#555" stroke-width="1.8"/></svg></div>
<div id="ok">OK</div>
</body></html>
